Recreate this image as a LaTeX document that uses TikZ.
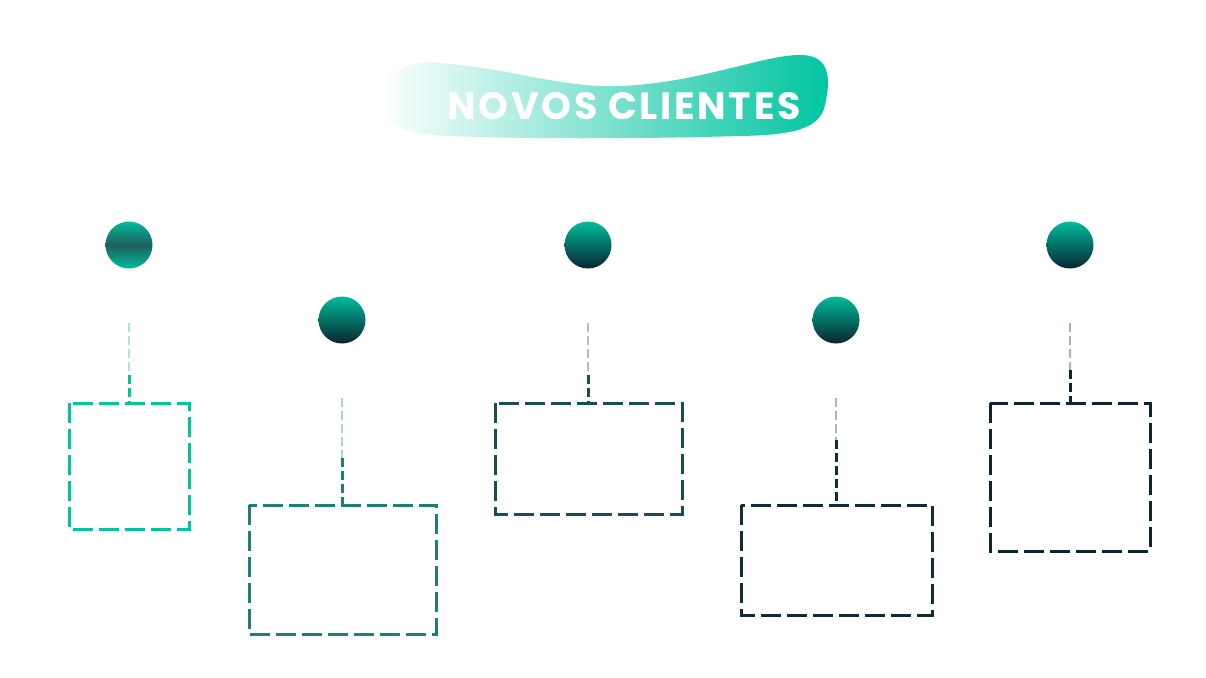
\documentclass[tikz,border=0pt]{standalone}
\usepackage{fontspec}
\newfontfamily\titlefont{Poppins}[UprightFont=* Bold, LetterSpace=7]
\definecolor{cA}{HTML}{00C4A0}
\definecolor{cB}{HTML}{1F7F77}
\definecolor{cC}{HTML}{194F50}
\definecolor{cD}{HTML}{0F2D39}
\definecolor{cE}{HTML}{0B2533}
\definecolor{tealtop}{HTML}{00BC9B}
\definecolor{darkbot}{HTML}{0A2430}
\definecolor{midd}{HTML}{215F5D}
\begin{document}
\begin{tikzpicture}[x=1pt,y=-1pt,
  card/.style={draw=#1, line width=3pt, dash pattern=on 20pt off 6pt},
  link/.style={draw=#1, line width=3pt, dash pattern=on 9pt off 4pt},
  faint/.style={draw=#1, line width=1.2pt, dash pattern=on 9pt off 4pt, opacity=0.35},
  dot/.style={circle, minimum size=47pt, inner sep=0pt, top color=tealtop, bottom color=darkbot}]
\useasboundingbox (0,0) rectangle (1206,677);
% title blob
\shade[left color=white, middle color=cA!45, right color=cA]
 (380,105) .. controls (378,78) and (400,60) .. (440,63)
 .. controls (520,70) and (560,88) .. (620,86)
 .. controls (700,83) and (765,54) .. (802,55)
 .. controls (832,56) and (830,82) .. (825,105)
 .. controls (820,130) and (790,135) .. (740,136)
 .. controls (640,139) and (520,139) .. (450,136)
 .. controls (400,134) and (382,124) .. (380,105) -- cycle;
\node[text=white, font=\titlefont\fontsize{38}{40}\selectfont, anchor=base] (title) at (624,119) {NOVOS CLIENTES};
% circles
\node[circle, minimum size=47pt, inner sep=0pt, top color=tealtop, bottom color=tealtop, middle color=midd] (d1) at (129,245) {};
\node[dot] (d2) at (342,320) {};
\node[dot] (d3) at (588,245) {};
\node[dot] (d4) at (836,320) {};
\node[dot] (d5) at (1070,245) {};
% boxes
\draw[card=cA] (69,403) rectangle (189,529);
\coordinate (b1) at (129,403);
\draw[card=cB] (249,505) rectangle (436,634);
\coordinate (b2) at (342,505);
\draw[card=cC] (495,403) rectangle (682,514);
\coordinate (b3) at (588,403);
\draw[card=cD] (741,505) rectangle (932,615);
\coordinate (b4) at (836,505);
\draw[card=cE] (990,403) rectangle (1150,551);
\coordinate (b5) at (1070,403);
% connectors
\coordinate (t1) at (129,323); \coordinate (m1) at (129,375);
\coordinate (t2) at (342,398); \coordinate (m2) at (342,458);
\coordinate (t3) at (588,323); \coordinate (m3) at (588,375);
\coordinate (t4) at (836,398); \coordinate (m4) at (836,440);
\coordinate (t5) at (1070,323); \coordinate (m5) at (1070,370);
\draw[faint=cA] (t1) -- (m1); \draw[link=cA] (m1) -- (b1);
\draw[faint=cB] (t2) -- (m2); \draw[link=cB] (m2) -- (b2);
\draw[faint=cC] (t3) -- (m3); \draw[link=cC] (m3) -- (b3);
\draw[faint=cD] (t4) -- (m4); \draw[link=cD] (m4) -- (b4);
\draw[faint=cE] (t5) -- (m5); \draw[link=cE] (m5) -- (b5);
\end{tikzpicture}
\end{document}
